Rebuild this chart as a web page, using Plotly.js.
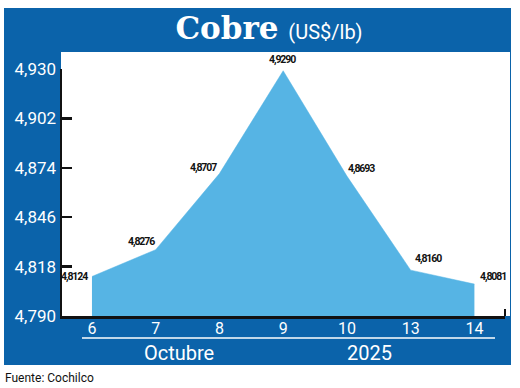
<!DOCTYPE html>
<html>
<head>
<meta charset="utf-8">
<script src="https://cdn.plot.ly/plotly-3.0.1.min.js"></script>
<style>html,body{margin:0;padding:0;background:#fff;}#chart{width:520px;height:388px;}</style>
</head>
<body>
<div id="chart"></div>
<script>
// ---- data ----
const days = ['6', '7', '8', '9', '10', '13', '14'];
const prices = [4.8124, 4.8276, 4.8707, 4.9290, 4.8693, 4.8160, 4.8081];
const yTickVals = [4.790, 4.818, 4.846, 4.874, 4.902, 4.930];
const titleMain = 'Cobre';
const titleUnit = '(US$/lb)';
const monthLabel = 'Octubre';
const yearLabel = '2025';
const sourceLabel = 'Fuente: Cochilco';

// ---- style ----
const BLUE = '#0b63aa';
const FILL = '#56b4e4';
const labelPlacement = [
  {xa: 'right', dx: -2, dy: 0},
  {xa: 'right', dx: 1, dy: 8},
  {xa: 'right', dx: 0, dy: 6},
  {xa: 'center', dx: -1, dy: 11},
  {xa: 'left', dx: -1, dy: 8},
  {xa: 'left', dx: 2, dy: 12},
  {xa: 'left', dx: 4, dy: 8}
];
const fmt = (v, d) => v.toFixed(d).replace('.', ',');

const trace = {
  x: days, y: prices, type: 'scatter', mode: 'lines',
  fill: 'tozeroy', fillcolor: FILL,
  line: {color: FILL, width: 0.5},
  hoverinfo: 'skip', showlegend: false
};

// annotations on a category axis are positioned by category index
const labelAnns = days.map((d, i) => ({
  x: i, y: prices[i], xref: 'x', yref: 'y',
  text: '<span style="letter-spacing:-1.1px">' + fmt(prices[i], 4) + '</span>', showarrow: false,
  xanchor: labelPlacement[i].xa, yanchor: 'middle',
  xshift: labelPlacement[i].dx, yshift: labelPlacement[i].dy,
  font: {family: 'Roboto, sans-serif', size: 10.5, weight: 'bold', color: '#111'}
}));

const W = 443, H = 247, L = 62, T = 69, B = 316;
const px = v => (v - L) / W;
const py = v => (B - v) / H;

const layout = {
  width: 520, height: 388,
  margin: {l: L, r: 520 - 505, t: T, b: 388 - B},
  paper_bgcolor: '#ffffff', plot_bgcolor: 'rgba(0,0,0,0)',
  font: {family: 'Roboto, "Noto Sans", sans-serif', color: '#ffffff'},
  title: {
    text: '<b>' + titleMain + '</b> <span style="font-family:Roboto, sans-serif;font-size:20px;font-weight:normal">' + titleUnit + '</span>',
    font: {family: '"DejaVu Serif", serif', size: 31, color: '#ffffff'},
    x: 269 / 520, xanchor: 'center', xref: 'container',
    y: 1 - 28 / 388, yanchor: 'middle', yref: 'container'
  },
  xaxis: {
    type: 'category', range: [-0.47, 6.48],
    showline: true, linecolor: '#111', linewidth: 2.5,
    showgrid: false, zeroline: false, ticks: '', ticklabelstandoff: -4,
    tickfont: {size: 16, color: '#ffffff'}, fixedrange: true
  },
  yaxis: {
    range: [yTickVals[0], yTickVals[yTickVals.length - 1]],
    tickvals: yTickVals, ticktext: yTickVals.map(v => fmt(v, 3)),
    showline: true, linecolor: '#111', linewidth: 2.5,
    ticks: 'inside', ticklen: 10, tickwidth: 2.5, tickcolor: '#111',
    showgrid: false, zeroline: false,
    tickfont: {size: 17, color: '#ffffff'}, fixedrange: true
  },
  shapes: [
    {type: 'rect', xref: 'paper', yref: 'paper', x0: px(4), x1: px(511), y0: py(365), y1: py(8),
     fillcolor: BLUE, line: {width: 0}, layer: 'below'},
    {type: 'rect', xref: 'paper', yref: 'paper', x0: px(61), x1: px(510), y0: 0, y1: py(52),
     fillcolor: '#ffffff', line: {width: 0}, layer: 'below'},
    {type: 'line', xref: 'paper', yref: 'paper', x0: px(82), x1: px(495), y0: py(338), y1: py(338),
     line: {color: '#ffffff', width: 1.5}},
    {type: 'line', xref: 'paper', yref: 'paper', x0: 1, x1: 1, y0: 0, y1: py(309),
     line: {color: '#111', width: 2}}
  ],
  annotations: labelAnns.concat([
    {xref: 'paper', yref: 'paper', x: px(179), y: py(353), text: monthLabel, showarrow: false,
     xanchor: 'center', yanchor: 'middle', font: {size: 20, color: '#ffffff'}},
    {xref: 'paper', yref: 'paper', x: px(369), y: py(353), text: yearLabel, showarrow: false,
     xanchor: 'center', yanchor: 'middle', font: {size: 20, color: '#ffffff'}},
    {xref: 'paper', yref: 'paper', x: px(3), y: py(378), text: sourceLabel, showarrow: false,
     xanchor: 'left', yanchor: 'middle', font: {size: 12, color: '#111'}}
  ])
};

Plotly.newPlot('chart', [trace], layout, {displayModeBar: false, staticPlot: true});
</script>
</body>
</html>
